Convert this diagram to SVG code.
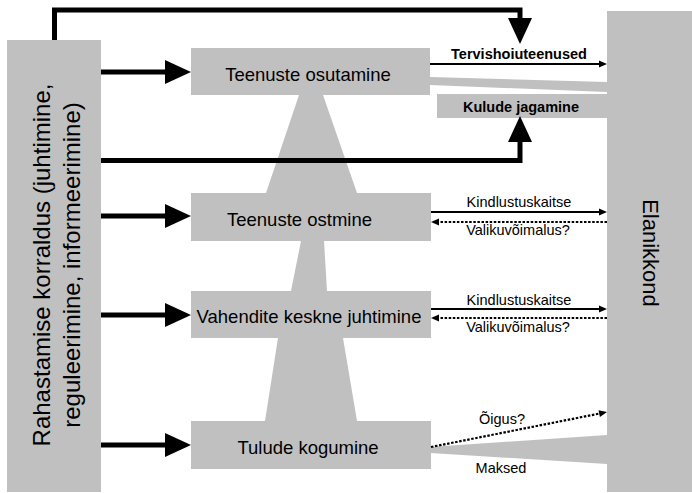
<svg xmlns="http://www.w3.org/2000/svg" width="692" height="493" viewBox="0 0 692 493">
<style>
.box{fill:#c0c0c0}
.t{font-family:"Liberation Sans",Arial,sans-serif;fill:#000}
.big{font-size:18.5px}
.sm{font-size:14.5px}
.b{font-weight:bold}
.thick{fill:none;stroke:#000;stroke-width:5}
.thin{fill:none;stroke:#000;stroke-width:2}
.dot{fill:none;stroke:#000;stroke-width:2.2;stroke-dasharray:2.5 1.6}
</style>
<defs>
<marker id="bigArr" markerUnits="userSpaceOnUse" markerWidth="26" markerHeight="24" refX="0" refY="12" orient="auto" overflow="visible">
<path d="M0,0 L26,12 L0,24 z" fill="#000"/>
</marker>
<marker id="smArr" markerUnits="userSpaceOnUse" markerWidth="8" markerHeight="7" refX="0" refY="3.5" orient="auto" overflow="visible">
<path d="M0,0 L8,3.5 L0,7 z" fill="#000"/>
</marker>
</defs>
<rect width="692" height="493" fill="#fff"/>

<g id="flows">
<polygon class="box" points="299,95 323,95 357,193 266,193"/>
<polygon class="box" points="301,241 324,241 327,291 291,291"/>
<polygon class="box" points="278,338 343,338 357,421 265,421"/>
<polygon class="box" points="430,77 607,82 607,92 430,85"/>
<polygon class="box" points="430,447 607,435 607,464 430,453"/>
</g>

<g id="rahastamine">
<rect class="box" x="7" y="40" width="94" height="452"/>
<text class="t" font-size="24" text-anchor="middle" transform="translate(50,265) rotate(-90)"><tspan x="0" y="0">Rahastamise korraldus (juhtimine,</tspan><tspan x="0" y="30">reguleerimine, informeerimine)</tspan></text>
</g>

<g id="elanikkond">
<rect class="box" x="607" y="11" width="85" height="481"/>
<text class="t" font-size="22" text-anchor="middle" transform="translate(643,253) rotate(90)">Elanikkond</text>
</g>

<g id="osutamine">
<rect class="box" x="191" y="48" width="239" height="47"/>
<text class="t big" x="308" y="81" text-anchor="middle">Teenuste osutamine</text>
</g>

<g id="kulude">
<rect class="box" x="437" y="94" width="170" height="24"/>
<text class="t sm b" x="521" y="112" text-anchor="middle">Kulude jagamine</text>
</g>

<g id="ostmine">
<rect class="box" x="191" y="193" width="240" height="48"/>
<text class="t big" x="227" y="226">Teenuste ostmine</text>
</g>

<g id="vahendite">
<rect class="box" x="191" y="291" width="240" height="47"/>
<text class="t big" x="309" y="322.5" text-anchor="middle">Vahendite keskne juhtimine</text>
</g>

<g id="tulude">
<rect class="box" x="191" y="421" width="240" height="48"/>
<text class="t big" x="308" y="454" text-anchor="middle">Tulude kogumine</text>
</g>

<g id="connectors">
<path class="thick" d="M101,72 H165" marker-end="url(#bigArr)"/>
<path class="thick" d="M101,216 H165" marker-end="url(#bigArr)"/>
<path class="thick" d="M101,315 H165" marker-end="url(#bigArr)"/>
<path class="thick" d="M101,445 H165" marker-end="url(#bigArr)"/>
<path class="thick" d="M54.5,40 V10 H520 V18" stroke-linejoin="miter" marker-end="url(#bigArr)"/>
<path class="thick" d="M101,160.5 H520 V142" marker-end="url(#bigArr)"/>

<path class="thin" d="M430,64 H599" marker-end="url(#smArr)"/>
<path class="thin" d="M431,212 H599" marker-end="url(#smArr)"/>
<path class="dot" d="M607,222 H439" marker-end="url(#smArr)"/>
<path class="thin" d="M431,309 H599" marker-end="url(#smArr)"/>
<path class="dot" d="M607,318 H439" marker-end="url(#smArr)"/>
<path class="dot" d="M431,447 L599.2,413.6" marker-end="url(#smArr)"/>
</g>

<g id="labels">
<text class="t sm b" x="519" y="59" text-anchor="middle">Tervishoiuteenused</text>
<text class="t sm" x="519" y="207" text-anchor="middle">Kindlustuskaitse</text>
<text class="t sm" x="518" y="235" text-anchor="middle">Valikuvõimalus?</text>
<text class="t sm" x="519" y="305" text-anchor="middle">Kindlustuskaitse</text>
<text class="t sm" x="518" y="332" text-anchor="middle">Valikuvõimalus?</text>
<text class="t sm" x="502" y="424" text-anchor="middle">Õigus?</text>
<text class="t sm" x="501" y="473" text-anchor="middle">Maksed</text>
</g>
</svg>
